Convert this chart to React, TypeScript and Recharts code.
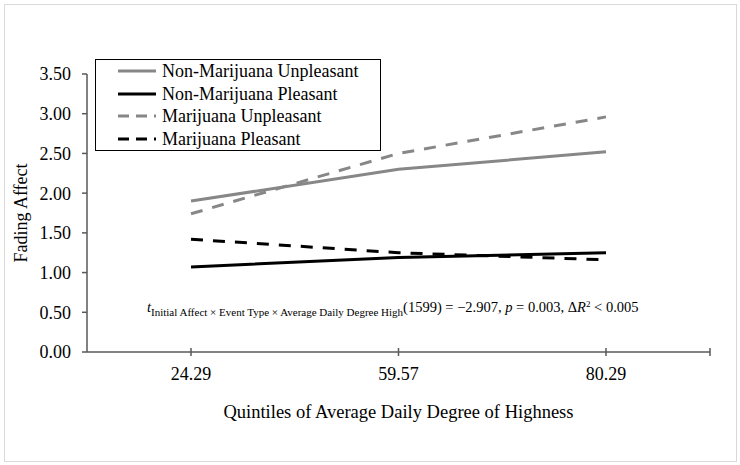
import React from "react";
import { LineChart, Line, XAxis, YAxis, Label } from "recharts";

// quintile labels on the x axis
const quintiles = ["24.29", "59.57", "80.29"];

// fading affect per quintile
const nonMarijuanaUnpleasant = [1.9, 2.3, 2.52];
const nonMarijuanaPleasant = [1.07, 1.19, 1.25];
const marijuanaUnpleasant = [1.74, 2.5, 2.96];
const marijuanaPleasant = [1.42, 1.25, 1.16];

const yTicks = [0, 0.5, 1, 1.5, 2, 2.5, 3, 3.5];

const GRAY = "#878787";
const AXIS = "#595959";
const FONT = "'Liberation Serif', 'Times New Roman', serif";

const series = [
  { key: "nmu", name: "Non-Marijuana Unpleasant", color: GRAY, dash: undefined as string | undefined },
  { key: "nmp", name: "Non-Marijuana Pleasant", color: "#000000", dash: undefined as string | undefined },
  { key: "mu", name: "Marijuana Unpleasant", color: GRAY, dash: "12 10" },
  { key: "mp", name: "Marijuana Pleasant", color: "#000000", dash: "12 10" },
];

const data = quintiles.map((q, i) => ({
  q,
  nmu: nonMarijuanaUnpleasant[i],
  nmp: nonMarijuanaPleasant[i],
  mu: marijuanaUnpleasant[i],
  mp: marijuanaPleasant[i],
}));

const PLOT_RIGHT = 710;

const XTick = (props: any) => {
  const { x, y, payload, index } = props;
  return (
    <g>
      <line x1={x} x2={x} y1={y - 20} y2={y - 12} stroke={AXIS} strokeWidth={1.5} />
      {index === quintiles.length - 1 && (
        <line x1={PLOT_RIGHT} x2={PLOT_RIGHT} y1={y - 20} y2={y - 12} stroke={AXIS} strokeWidth={1.5} />
      )}
      <text x={x} y={y} dy="0.68em" textAnchor="middle" fontFamily={FONT} fontSize={18} fill="#000">
        {payload.value}
      </text>
    </g>
  );
};

const YLabel = (props: any) => {
  const { viewBox } = props;
  const cx = viewBox.x + 21;
  const cy = viewBox.y + viewBox.height / 2;
  return (
    <text
      x={cx}
      y={cy}
      transform={`rotate(-90, ${cx}, ${cy})`}
      textAnchor="middle"
      dominantBaseline="central"
      fontFamily={FONT}
      fontSize={18}
      fill="#000"
    >
      Fading Affect
    </text>
  );
};

export default function App() {
  return (
    <div style={{ position: "relative", width: 740, height: 465, background: "#fff", fontFamily: FONT }}>
      <style>{"body{margin:0}"}</style>
      <div
        style={{
          position: "absolute",
          left: 4,
          top: 4,
          width: 731,
          height: 456,
          border: "1px solid #d9d9d9",
        }}
      />
      <LineChart
        width={740}
        height={465}
        data={data}
        margin={{ top: 74, right: 30, bottom: 0, left: 0 }}
        style={{ position: "absolute", left: 0, top: 0 }}
      >
        <XAxis
          dataKey="q"
          padding={{ left: 104, right: 104 }}
          height={113}
          axisLine={{ stroke: AXIS, strokeWidth: 1.5 }}
          tickLine={false}
          tickSize={5}
          tickMargin={11}
          tick={<XTick />}
        >
          <Label
            value="Quintiles of Average Daily Degree of Highness"
            position="insideBottom"
            offset={47}
            style={{ fontFamily: FONT, fontSize: 18.5, fill: "#000" }}
          />
        </XAxis>
        <YAxis
          width={87}
          domain={[0, 3.5]}
          ticks={yTicks}
          tickFormatter={(v: number) => v.toFixed(2)}
          axisLine={{ stroke: AXIS, strokeWidth: 1.5 }}
          tickLine={{ stroke: AXIS, strokeWidth: 1.5 }}
          tickSize={5}
          tickMargin={11}
          tick={{ fontFamily: FONT, fontSize: 18, fill: "#000" }}
        >
          <Label content={<YLabel />} />
        </YAxis>
        {series.map((s) => (
          <Line
            key={s.key}
            dataKey={s.key}
            name={s.name}
            type="linear"
            stroke={s.color}
            strokeWidth={3}
            strokeDasharray={s.dash}
            dot={false}
            activeDot={false}
            isAnimationActive={false}
          />
        ))}
      </LineChart>

      {/* legend box */}
      <div
        style={{
          position: "absolute",
          left: 95,
          top: 59,
          width: 284,
          height: 90,
          border: "1.5px solid #000",
          background: "#fff",
        }}
      >
        {series.map((s) => (
          <div key={s.key} style={{ display: "flex", alignItems: "center", height: 22.5 }}>
            <svg width={40} height={10} style={{ marginLeft: 22, marginRight: 4 }}>
              <line x1={0} x2={38} y1={5} y2={5} stroke={s.color} strokeWidth={3} strokeDasharray={s.dash ? "11 7" : undefined} />
            </svg>
            <span style={{ fontSize: 18, color: "#000", lineHeight: 1 }}>{s.name}</span>
          </div>
        ))}
      </div>

      {/* statistic annotation */}
      <div
        style={{
          position: "absolute",
          left: 147,
          top: 300,
          fontSize: 14.5,
          color: "#000",
          whiteSpace: "nowrap",
          lineHeight: 1,
        }}
      >
        <i>t</i>
        <span style={{ fontSize: 11, position: "relative", top: 4 }}>
          Initial Affect × Event Type × Average Daily Degree High
        </span>
        (1599) = −2.907, <i>p</i> = 0.003, Δ<i>R</i>
        <span style={{ fontSize: 9, position: "relative", top: -5 }}>2</span> &lt; 0.005
      </div>
    </div>
  );
}
